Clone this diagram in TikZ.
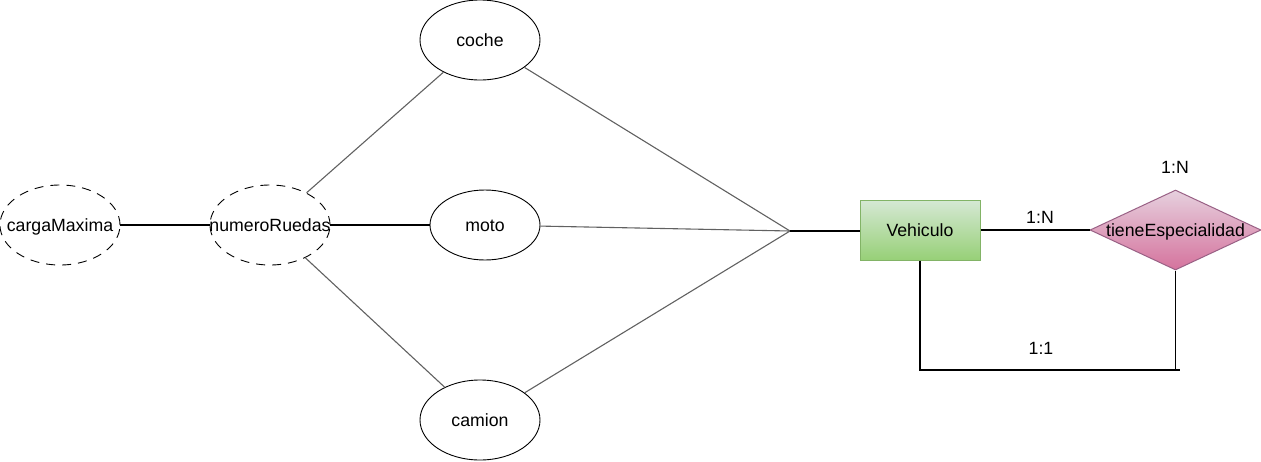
\documentclass[tikz,border=0pt]{standalone}
\usepackage{fontspec}
\setmainfont{Liberation Sans}
\usetikzlibrary{shapes.geometric}
\begin{document}
\begin{tikzpicture}[x=1pt,y=-1pt,
  attr/.style={ellipse,draw=black,line width=0.9pt,inner sep=0pt,minimum width=120pt,minimum height=80pt},
  dashedattr/.style={attr,dash pattern=on 9pt off 7pt},
  nodetxt/.style={inner sep=0pt,text height=12.5pt,text depth=0pt,font=\fontsize{17.7}{20}\selectfont},
  lbltxt/.style={inner sep=0pt,text height=12.5pt,text depth=0pt,font=\fontsize{17.7}{20}\selectfont},
  greyline/.style={draw=black!62,line width=1.1pt},
  blackline/.style={draw=black,line width=1.1pt}]
\useasboundingbox (0,0) rectangle (1261,461);
% attributes
\node[dashedattr] (carga) at (60,225) {};
\node[nodetxt] (cargaT) at (60,225) {cargaMaxima};
\node[dashedattr] (num) at (270,225) {};
\node[nodetxt] (numT) at (270,225) {numeroRuedas};
\node[attr] (coche) at (480,40) {};
\node[nodetxt] (cocheT) at (480,40) {coche};
\node[attr,minimum width=110pt,minimum height=70pt] (moto) at (485,225) {};
\node[nodetxt] (motoT) at (485,225) {moto};
\node[attr] (camion) at (480,420) {};
\node[nodetxt] (camionT) at (480,420) {camion};
% entity
\node[rectangle,draw={rgb,255:red,130;green,179;blue,102},line width=1pt,
      top color={rgb,255:red,213;green,232;blue,212},bottom color={rgb,255:red,151;green,208;blue,119},
      minimum width=120pt,minimum height=60pt,inner sep=0pt] (veh) at (920,230) {};
\node[nodetxt] (vehT) at (920,230) {Vehiculo};
% relationship
\node[diamond,draw={rgb,255:red,153;green,97;blue,133},line width=1pt,
      top color={rgb,255:red,230;green,208;blue,222},bottom color={rgb,255:red,213;green,115;blue,157},
      minimum width=171pt,minimum height=80pt,inner sep=0pt,aspect=2.14] (dia) at (1175.5,230) {};
\node[nodetxt] (diaT) at (1175.5,230) {tieneEspecialidad};
% junction
\coordinate (j) at (790,231);
\coordinate (c1) at (1180,370);
% connectors
\draw[blackline] (carga) -- (num);
\draw[blackline] (num) -- (moto);
\draw[greyline] (num) -- (coche);
\draw[greyline] (num) -- (camion);
\draw[greyline] (coche) -- (j);
\draw[greyline] (moto) -- (j);
\draw[greyline] (camion) -- (j);
\draw[blackline] (j) -- (veh.west |- j);
\draw[blackline] (veh.east) -- (dia.west);
\draw[blackline] (veh.south) |- (c1);
\draw[blackline] (dia.south) -- (dia.south |- c1);
% labels
\node[lbltxt] (l1) at (1040,217) {1:N};
\node[lbltxt] (l2) at (1175,167) {1:N};
\node[lbltxt] (l3) at (1041,348) {1:1};
\end{tikzpicture}
\end{document}
